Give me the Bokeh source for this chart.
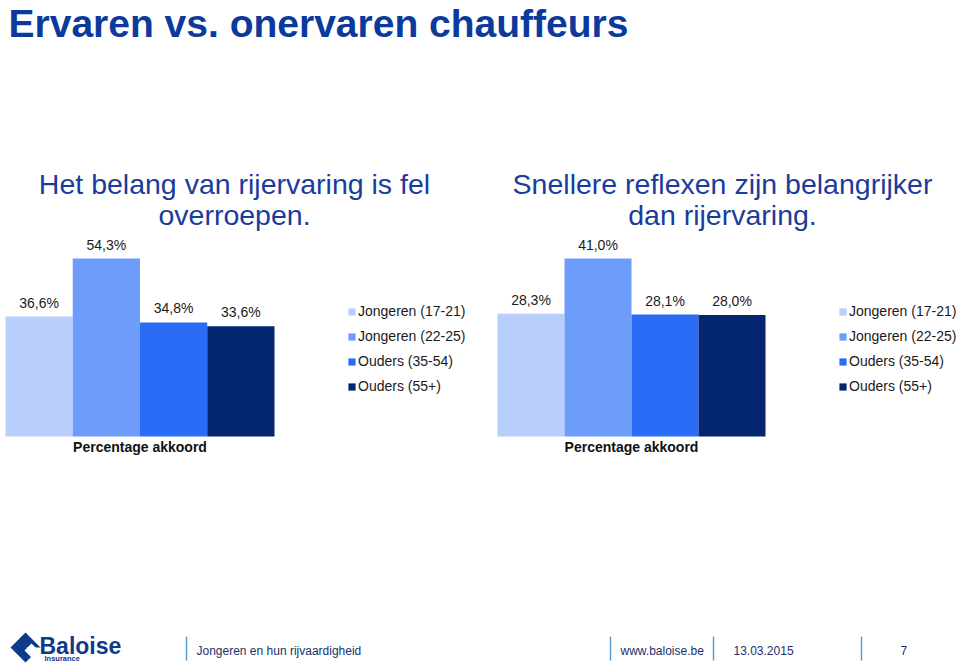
from bokeh.plotting import figure
from bokeh.models import Range1d, ColumnDataSource, Legend, LegendItem
from bokeh.core.properties import value
from bokeh.embed import file_html
from bokeh.resources import INLINE

# ---------------- data ----------------
title = "Ervaren vs. onervaren chauffeurs"
groups = ["Jongeren (17-21)", "Jongeren (22-25)", "Ouders (35-54)", "Ouders (55+)"]
colors = ["#b8cefc", "#6e9cfb", "#2b6cf6", "#03266f"]
left_values = [36.6, 54.3, 34.8, 33.6]
right_values = [28.3, 41.0, 28.1, 28.0]
left_subtitle = ["Het belang van rijervaring is fel", "overroepen."]
right_subtitle = ["Snellere reflexen zijn belangrijker", "dan rijervaring."]
axis_label = "Percentage akkoord"
footer_texts = ["Jongeren en hun rijvaardigheid", "www.baloise.be", "13.03.2015", "7"]

W, H = 960, 663
FONT = "Liberation Sans"
BLUE = "#0b3a9c"

p = figure(width=W, height=H, x_range=Range1d(0, W), y_range=Range1d(H, 0),
           output_backend="svg", toolbar_location=None, min_border=0)
p.axis.visible = False
p.grid.visible = False
p.outline_line_color = None
p.background_fill_color = "white"
p.border_fill_color = "white"


def fmt(v):
    return f"{v:.1f}".replace(".", ",") + "%"


def add_chart(name, values, left_px, bar_px, base_px, top_px, legend_x, sub_x, subtitle):
    # ranges that place this chart inside the page
    ppu = (base_px - top_px) / max(values)
    p.extra_x_ranges[name] = Range1d(-left_px / bar_px - 0.5, (W - left_px) / bar_px - 0.5)
    p.extra_y_ranges[name] = Range1d(-(H - base_px) / ppu, base_px / ppu)
    src = ColumnDataSource(dict(x=list(range(len(values))), top=values, color=colors,
                                label=[fmt(v) for v in values]))
    r = p.vbar(x="x", top="top", width=1, bottom=0, fill_color="color", line_color=None,
               source=src, x_range_name=name, y_range_name=name)
    p.text(x="x", y="top", text="label", source=src, x_range_name=name, y_range_name=name,
           y_offset=-14, text_align="center", text_baseline="middle",
           text_font=value(FONT), text_font_size="14px", text_color="#1a1a1a")
    p.text(x=[(len(values) - 1) / 2], y=[0], text=[axis_label], x_range_name=name,
           y_range_name=name, y_offset=10, text_align="center", text_baseline="middle",
           text_font=value(FONT), text_font_size="14px", text_font_style="bold",
           text_color="#111111")
    # subtitle (two lines)
    p.text(x=[sub_x, sub_x], y=[183, 214], text=subtitle, text_align="center",
           text_baseline="middle", text_font=value(FONT), text_font_size="28.5px",
           text_color="#1a3c9c")
    legend = Legend(items=[LegendItem(label=g, renderers=[r], index=i) for i, g in enumerate(groups)],
                    location=(legend_x, H - 396), orientation="vertical",
                    glyph_width=9, glyph_height=9, label_height=20, spacing=5,
                    label_standoff=2, padding=0, margin=0,
                    border_line_color=None, background_fill_alpha=0,
                    label_text_font=FONT, label_text_font_size="14px", label_text_color="#1a1a1a")
    p.add_layout(legend, "center")


add_chart("left", left_values, 5, 67.25, 436, 258, 347, 234, left_subtitle)
add_chart("right", right_values, 497, 67.0, 436, 258, 838, 722, right_subtitle)

# ---------------- title ----------------
p.text(x=[8], y=[1], text=[title], text_align="left", text_baseline="top",
       text_font=value(FONT), text_font_size="39px", text_font_style="bold", text_color=BLUE)

# ---------------- footer ----------------
sep_x = [186, 610, 713, 861]
p.segment(x0=sep_x, x1=sep_x, y0=[636] * 4, y1=[660] * 4, line_color="#5aa0d2", line_width=1.5)
p.text(x=[196, 620, 733, 900], y=[650] * 4, text=footer_texts, text_align="left",
       text_baseline="middle", text_font=value(FONT), text_font_size="12px", text_color="#1b2f6e")

# Baloise logo
LOGO = "#0d3a8c"
p.patch(x=[10, 25, 40, 25], y=[647, 632, 647, 662], fill_color=LOGO, line_color=None)
p.patch(x=[24, 31, 38, 31], y=[650, 643, 650, 657], fill_color="white", line_color=None)
p.patch(x=[26, 40, 40, 33], y=[647, 647, 660, 660], fill_color="white", line_color=None)
p.text(x=[39], y=[645], text=["Baloise"], text_align="left", text_baseline="middle",
       text_font=value(FONT), text_font_size="23px", text_font_style="bold", text_color=LOGO)
p.text(x=[44], y=[658], text=["Insurance"], text_align="left", text_baseline="middle",
       text_font=value(FONT), text_font_size="7.5px", text_font_style="bold", text_color=LOGO)

open("out.html", "w").write(file_html(p, INLINE))
